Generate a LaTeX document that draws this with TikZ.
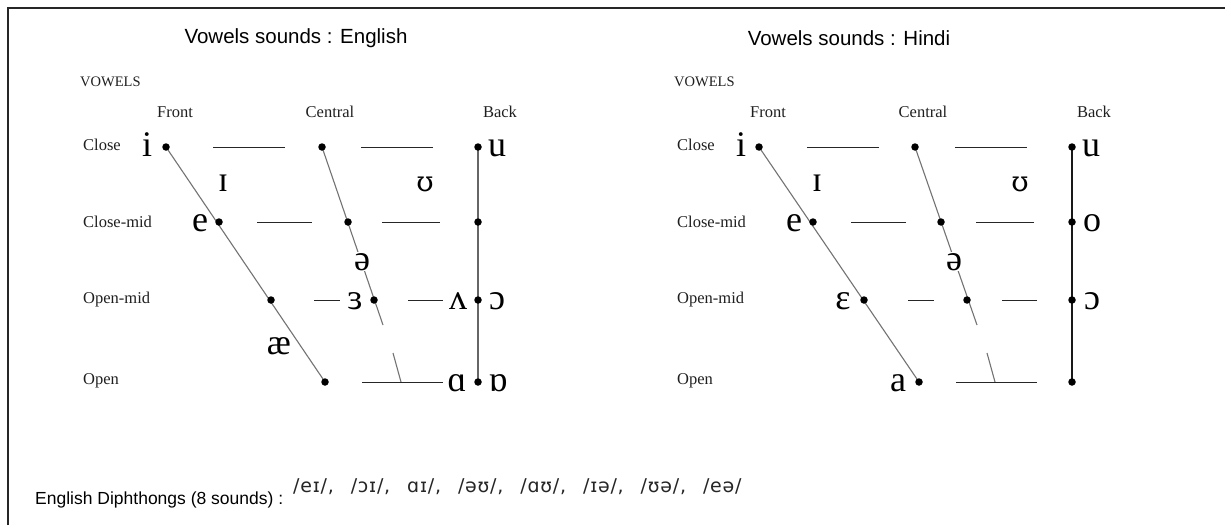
\documentclass[tikz,border=0pt]{standalone}
\usepackage{fontspec}
\setmainfont{Liberation Serif}
\newfontfamily\headfont{Liberation Sans}
\newfontfamily\ipafont[LetterSpace=4]{DejaVu Sans}
\newfontfamily\hookfont{DejaVu Serif}

\begin{document}
\begin{tikzpicture}[x=1pt,y=-1pt,
  dot/.style={circle,fill=black,inner sep=0pt,minimum size=7.5pt},
  sym/.style={font=\fontsize{36}{36}\selectfont,inner sep=0pt,anchor=base},
  symh/.style={sym,font=\hookfont\fontsize{28}{28}\selectfont},
  symw/.style={sym,fill=white,inner sep=1pt},
  lab/.style={font=\fontsize{16.5}{16.5}\selectfont,text=black!88,inner sep=0pt},
  rowlab/.style={lab,anchor=west},
  head/.style={font=\headfont\fontsize{20.5}{20.5}\selectfont,inner sep=0pt},
  slantline/.style={draw=black!55,line width=1.1pt},
  backline/.style={draw=black!60,line width=1.4pt},
  hline/.style={draw=black!85,line width=1pt},
  frame/.style={draw=black!85,line width=2.2pt}]
\useasboundingbox (0,0) rectangle (1225,525);
\fill[white] (0,0) rectangle (1225,525);

% outer frame (left and top edges)
\draw[frame] (8,525) -- (8,8) -- (1225,8);

% ---------------- English chart ----------------
\node[head] (tEn) at (296,38) {Vowels sounds : English};
\node[lab,anchor=west,font=\fontsize{14.5}{14.5}\selectfont] (vEn) at (80,82) {VOWELS};
\node[lab] (fEn) at (175,112) {Front};
\node[lab] (cEn) at (330,112) {Central};
\node[lab] (bEn) at (500,112) {Back};
\node[rowlab] (r1En) at (83,145) {Close};
\node[rowlab] (r2En) at (83,222) {Close-mid};
\node[rowlab] (r3En) at (83,300) {Open-mid};
\node[rowlab] (r4En) at (83,381) {Open};

% tongue positions
\coordinate (Lf1) at (166,147);
\coordinate (Lc1) at (322,147);
\coordinate (Lb1) at (478,147);
\coordinate (Lf2) at (219,222);
\coordinate (Lc2) at (348,222);
\coordinate (Lb2) at (478,222);
\coordinate (Lf3) at (271,300);
\coordinate (Lc3) at (374,300);
\coordinate (Lb3) at (478,300);
\coordinate (Lf4) at (325,382);
\coordinate (Lb4) at (478,382);
\coordinate (LgA) at (383,325);
\coordinate (LgB) at (393,353);
\coordinate (LgC) at (401,382);

\draw[slantline] (Lf1) -- (Lf4);
\draw[slantline] (Lc1) -- (LgA);
\draw[slantline] (LgB) -- (LgC);
\draw[backline] (Lb1) -- (Lb4);

\draw[hline] (213,147) -- (285,147);
\draw[hline] (361,147) -- (433,147);
\draw[hline] (257,222) -- (312,222);
\draw[hline] (382,222) -- (440,222);
\draw[hline] (314,300) -- (340,300);
\draw[hline] (408,300) -- (443,300);
\draw[hline] (362,382) -- (443,382);

\foreach \p in {Lf1,Lc1,Lb1,Lf2,Lc2,Lb2,Lf3,Lc3,Lb3,Lf4,Lb4}
  \node[dot] at (\p) {};

\node[sym] (Li) at (147,156) {i};
\node[sym] (Lu) at (497,156) {u};
\node[sym] (LI) at (223,191) {ɪ};
\node[symh] (LU) at (425,191) {ʊ};
\node[sym] (Le) at (200,231) {e};
\node[symw] (Lschwa) at (362,270) {ə};
\node[sym] (Ler) at (355,309) {ɜ};
\node[sym] (Lv) at (458,309) {ʌ};
\node[sym] (Lo) at (497,309) {ɔ};
\node[sym] (Lae) at (279,354) {æ};
\node[sym] (La) at (457,391) {ɑ};
\node[sym] (Lab) at (498,391) {ɒ};

% ---------------- Hindi chart ----------------
\node[head] (tHi) at (849,38) {Vowels sounds : Hindi};
\node[lab,anchor=west,font=\fontsize{14.5}{14.5}\selectfont] (vHi) at (674,82) {VOWELS};
\node[lab] (fHi) at (768,112) {Front};
\node[lab] (cHi) at (923,112) {Central};
\node[lab] (bHi) at (1094,112) {Back};
\node[rowlab] (r1Hi) at (677,145) {Close};
\node[rowlab] (r2Hi) at (677,222) {Close-mid};
\node[rowlab] (r3Hi) at (677,300) {Open-mid};
\node[rowlab] (r4Hi) at (677,381) {Open};

\coordinate (Rf1) at (759,147);
\coordinate (Rc1) at (915,147);
\coordinate (Rb1) at (1072,147);
\coordinate (Rf2) at (813,222);
\coordinate (Rc2) at (941,222);
\coordinate (Rb2) at (1072,222);
\coordinate (Rf3) at (864,300);
\coordinate (Rc3) at (967,300);
\coordinate (Rb3) at (1072,300);
\coordinate (Rf4) at (919,382);
\coordinate (Rb4) at (1072,382);
\coordinate (RgA) at (977,325);
\coordinate (RgB) at (987,353);
\coordinate (RgC) at (995,382);

\draw[slantline] (Rf1) -- (Rf4);
\draw[slantline] (Rc1) -- (RgA);
\draw[slantline] (RgB) -- (RgC);
\draw[hline,line width=1.3pt,draw=black!90] (Rb1) -- (Rb4);

\draw[hline] (807,147) -- (879,147);
\draw[hline] (955,147) -- (1027,147);
\draw[hline] (851,222) -- (906,222);
\draw[hline] (976,222) -- (1034,222);
\draw[hline] (908,300) -- (934,300);
\draw[hline] (1002,300) -- (1037,300);
\draw[hline] (956,382) -- (1037,382);

\foreach \p in {Rf1,Rc1,Rb1,Rf2,Rc2,Rb2,Rf3,Rc3,Rb3,Rf4,Rb4}
  \node[dot] at (\p) {};

\node[sym] (Ri) at (741,156) {i};
\node[sym] (Ru) at (1091,156) {u};
\node[sym] (RI) at (817,191) {ɪ};
\node[symh] (RU) at (1020,191) {ʊ};
\node[sym] (Re) at (794,231) {e};
\node[sym] (Ro) at (1092,231) {o};
\node[symw] (Rschwa) at (954,270) {ə};
\node[sym] (Reps) at (843,309) {ɛ};
\node[sym] (Rop) at (1092,309) {ɔ};
\node[sym] (Ra) at (898,391) {a};

% ---------------- diphthongs ----------------
\node[head,anchor=base west,font=\headfont\fontsize{17.5}{17.5}\selectfont] (dLab) at (35,504) {English Diphthongs (8 sounds) :};
\node[inner sep=0pt,anchor=base west,font=\ipafont\fontsize{19}{19}\selectfont,text=black!85] (dList) at (293,492)
  {/eɪ/,\hspace{17pt}/ɔɪ/,\hspace{17pt}ɑɪ/,\hspace{17pt}/əʊ/,\hspace{17pt}/ɑʊ/,\hspace{17pt}/ɪə/,\hspace{17pt}/ʊə/,\hspace{17pt}/eə/};
\end{tikzpicture}
\end{document}
